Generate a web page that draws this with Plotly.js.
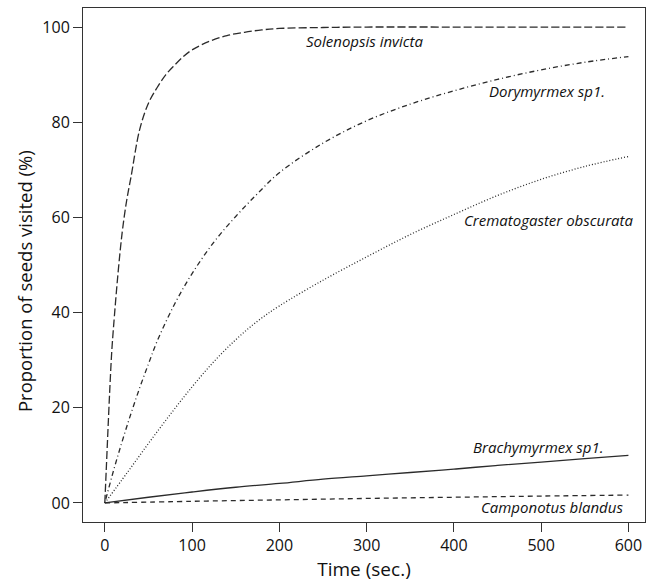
<!DOCTYPE html>
<html><head><meta charset="utf-8">
<script src="https://cdn.plot.ly/plotly-3.0.1.min.js"></script>
<style>html,body{margin:0;padding:0;background:#fff}#c{width:652px;height:582px}</style>
</head><body><div id="c"></div>
<script>
// Time (sec.) sample points and proportion of seeds visited (%)
const solenopsisX = [0, 2, 4, 6, 8, 10, 15, 20, 25, 30, 40, 50, 60, 70, 80, 90, 100, 120, 140, 160, 180, 200, 250, 300, 400, 500, 600];
const solenopsisY = [0, 8.5, 17, 25, 32, 37, 48, 57, 63.5, 68.5, 78.5, 84, 87.3, 90, 92, 93.8, 95.2, 97, 98.2, 98.9, 99.4, 99.7, 99.9, 100, 100, 100, 100];

const dorymyrmexX = [0, 10, 20, 30, 40, 50, 60, 80, 100, 125, 150, 175, 200, 250, 300, 350, 400, 450, 500, 550, 600];
const dorymyrmexY = [0, 6.8, 13, 18.8, 24.2, 29.2, 34, 41.8, 48.2, 54.8, 60.2, 65, 69.4, 75.6, 80.3, 83.8, 86.6, 89, 91, 92.6, 93.8];

const crematogasterX = [0, 25, 50, 75, 100, 125, 150, 175, 200, 250, 300, 350, 400, 450, 500, 550, 600];
const crematogasterY = [0, 6.2, 12.5, 18.6, 24.4, 29.7, 34.3, 38.2, 41.4, 46.8, 51.7, 56.4, 60.6, 64.6, 68, 70.7, 72.8];

const brachymyrmexX = [0, 50, 100, 150, 200, 250, 300, 350, 400, 450, 500, 550, 600];
const brachymyrmexY = [0, 1.2, 2.3, 3.3, 4.1, 5.0, 5.7, 6.4, 7.1, 7.9, 8.6, 9.3, 10];

const camponotusX = [0, 100, 200, 300, 400, 500, 600];
const camponotusY = [0, 0.35, 0.65, 0.95, 1.2, 1.45, 1.65];

const xTicks = [0, 100, 200, 300, 400, 500, 600];
const yTicks = [0, 20, 40, 60, 80, 100];
const yTickLabels = ["00", "20", "40", "60", "80", "100"];

const speciesLabels = ["Solenopsis invicta", "Dorymyrmex sp1.", "Crematogaster obscurata", "Brachymyrmex sp1.", "Camponotus blandus"];
const labelX = [367, 575, 607, 573, 596];
const labelY = [97, 86.5, 59.5, 11.8, -0.8];

const lineColor = "#2b2b2b";
const mk = (x, y, dash, name) => ({x, y, mode: "lines", name, line: {color: lineColor, width: 1.3, dash, shape: "spline", smoothing: 1}, hoverinfo: "skip"});

const traces = [
  mk(solenopsisX, solenopsisY, "8px,3px", speciesLabels[0]),
  mk(dorymyrmexX, dorymyrmexY, "1px,3px,5px,3px", speciesLabels[1]),
  mk(crematogasterX, crematogasterY, "1px,2px", speciesLabels[2]),
  mk(brachymyrmexX, brachymyrmexY, "solid", speciesLabels[3]),
  mk(camponotusX, camponotusY, "5px,4px", speciesLabels[4])
];

const font = "Open Sans, DejaVu Sans, sans-serif";
const annotations = speciesLabels.map((t, i) => ({
  x: labelX[i], y: labelY[i], xref: "x", yref: "y", text: t, showarrow: false,
  xanchor: "right", yanchor: "middle", font: {family: font, size: 15, color: "#111", style: "italic"}
}));
annotations.push({
  x: -0.103, y: 0.469, xref: "paper", yref: "paper", text: "Proportion of seeds visited (%)",
  showarrow: false, textangle: -90, xanchor: "center", yanchor: "middle",
  font: {family: font, size: 18.5, color: "#111"}
});

const layout = {
  width: 652, height: 582,
  margin: {l: 83, r: 7, t: 8, b: 60},
  paper_bgcolor: "#fff", plot_bgcolor: "#fff",
  showlegend: false,
  font: {family: font, color: "#111"},
  xaxis: {
    range: [-25, 619], tickvals: xTicks, ticktext: xTicks.map(String),
    showgrid: false, zeroline: false, showline: true, mirror: true, linecolor: "#333", linewidth: 1,
    ticks: "outside", ticklen: 9, tickwidth: 1, tickcolor: "#333",
    tickfont: {size: 16, family: font, color: "#111"},
    title: {text: "Time (sec.)", font: {size: 19, family: font, color: "#111"}, standoff: 8}
  },
  yaxis: {
    range: [-4, 104], tickvals: yTicks, ticktext: yTickLabels,
    showgrid: false, zeroline: false, showline: true, mirror: true, linecolor: "#333", linewidth: 1,
    ticks: "outside", ticklen: 9, tickwidth: 1, tickcolor: "#333",
    tickfont: {size: 16, family: font, color: "#111"}
  },
  annotations
};

Plotly.newPlot("c", traces, layout, {displayModeBar: false, staticPlot: true});
</script></body></html>
